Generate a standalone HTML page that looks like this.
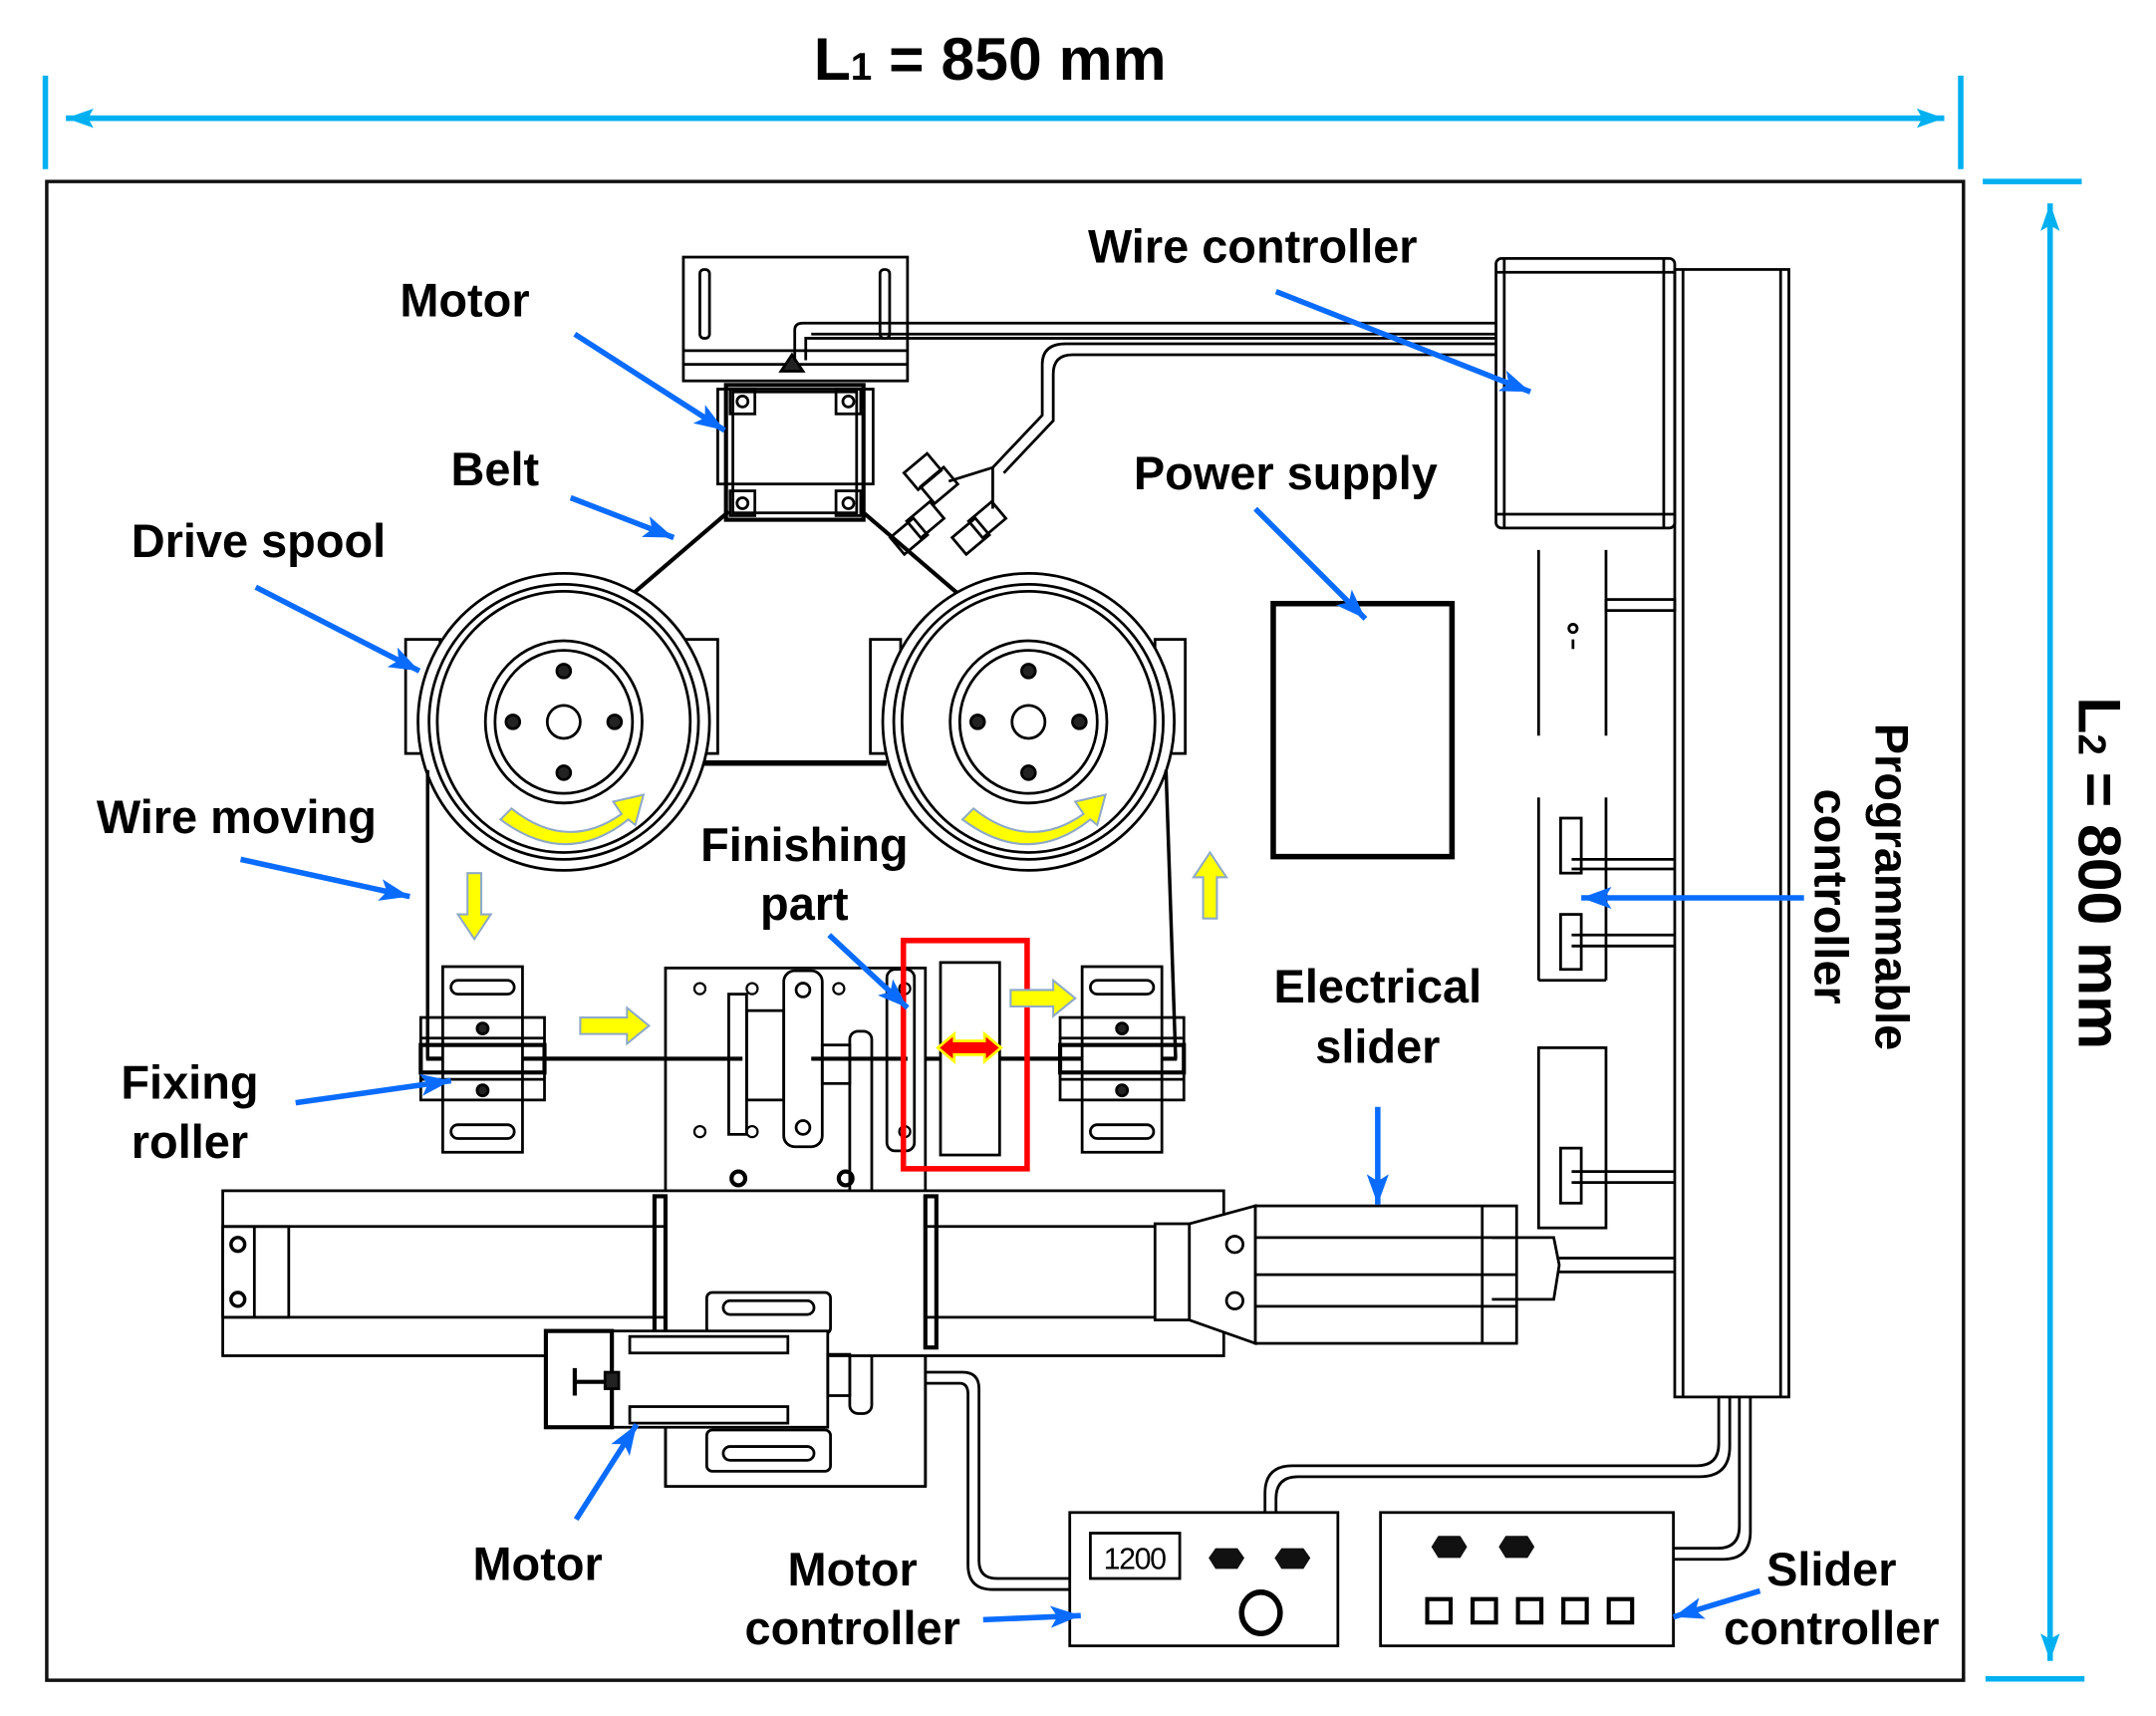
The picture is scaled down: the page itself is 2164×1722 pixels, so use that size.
<!DOCTYPE html>
<html><head><meta charset="utf-8"><style>
html,body{margin:0;padding:0;background:#fff}
svg{display:block}
text{font-family:"Liberation Sans",Arial,sans-serif;font-weight:bold;fill:#000}
</style></head><body>
<svg width="2164" height="1722" viewBox="0 0 1568 1248" preserveAspectRatio="none" xmlns="http://www.w3.org/2000/svg">
<defs>
<marker id="ca" viewBox="0 0 20 14" refX="20" refY="7" markerWidth="20" markerHeight="14" orient="auto" markerUnits="userSpaceOnUse">
<path d="M0,0 L20,7 L0,14 L4,7z" fill="#00b0f0"/>
</marker>
<marker id="bb" viewBox="0 0 22 16" refX="22" refY="8" markerWidth="22" markerHeight="16" orient="auto" markerUnits="userSpaceOnUse">
<path d="M0,0 L22,8 L0,16 L5,8z" fill="#0a6cff"/>
</marker>
</defs>

<text x="720" y="58" font-size="44" text-anchor="middle">L<tspan font-size="28">1</tspan> = 850 mm</text>
<g stroke="#00b0f0" stroke-width="4" fill="none">
<line x1="33" y1="55" x2="33" y2="123"/>
<line x1="1426" y1="55" x2="1426" y2="123"/>
<line x1="48" y1="86" x2="1414" y2="86" marker-end="url(#ca)"/>
<line x1="1414" y1="86" x2="48" y2="86" marker-end="url(#ca)"/>
<line x1="1442" y1="132" x2="1514" y2="132"/>
<line x1="1444" y1="1221" x2="1516" y2="1221"/>
<line x1="1491" y1="1205" x2="1491" y2="148" marker-end="url(#ca)"/>
<line x1="1491" y1="148" x2="1491" y2="1208" marker-end="url(#ca)"/>
</g>
<text transform="translate(1512,635) rotate(90)" font-size="44" text-anchor="middle">L<tspan font-size="28">2</tspan> = 800 mm</text>

<rect x="34" y="132" width="1394" height="1090" fill="none" stroke="#111" stroke-width="2.5"/>

<g fill="none" stroke="#000" stroke-width="2">
<rect x="497" y="187" width="163" height="90"/>
<line x1="497" y1="255" x2="660" y2="255"/>
<line x1="497" y1="265" x2="660" y2="265"/>
<rect x="509" y="196" width="7" height="50" rx="3"/>
<rect x="640" y="196" width="7" height="50" rx="3"/>
<path d="M568,270 L576,258 L584,270 Z" fill="#222"/>
<rect x="522" y="283" width="113" height="69"/>
<rect x="528" y="280" width="100" height="98" stroke-width="3"/>
<rect x="533" y="285" width="90" height="88"/>
<rect x="531" y="283" width="18" height="18"/><circle cx="540" cy="292" r="4"/>
<rect x="608" y="283" width="18" height="18"/><circle cx="617" cy="292" r="4"/>
<rect x="531" y="357" width="18" height="18"/><circle cx="540" cy="366" r="4"/>
<rect x="608" y="357" width="18" height="18"/><circle cx="617" cy="366" r="4"/>
<path d="M530,372 L460,432" stroke-width="3"/>
<path d="M627,372 L697,432" stroke-width="3"/>
<path d="M578,262 L578,240 Q578,235 584,235 L1088,235"/>
<path d="M586,262 L586,246 L1088,246" />
<path d="M1088,243 L590,243"/>
<path d="M1088,250 L775,250 Q758,250 758,265 L758,302 L722,340 L722,370"/>
<path d="M1088,258 L780,258 Q766,258 766,272 L766,306 L730,344"/>
<path d="M722,340 L690,350"/>
<rect x="660" y="335" width="22" height="16" transform="rotate(-40 671 343)"/>
<rect x="672" y="345" width="22" height="16" transform="rotate(-40 683 353)"/>
<rect x="650" y="382" width="22" height="16" transform="rotate(-40 661 390)"/>
<rect x="662" y="370" width="22" height="16" transform="rotate(-40 673 378)"/>
<rect x="695" y="382" width="22" height="16" transform="rotate(-40 706 390)"/>
<rect x="707" y="370" width="22" height="16" transform="rotate(-40 718 378)"/>

<rect x="295" y="465" width="25" height="83"/>
<rect x="499" y="465" width="23" height="83"/>
<rect x="633" y="465" width="22" height="83"/>
<rect x="840" y="465" width="22" height="83"/>
<line x1="512" y1="555" x2="645" y2="555" stroke-width="4"/>
<g id="sp">
<ellipse cx="410" cy="525" rx="106" ry="108" fill="#fff"/>
<ellipse cx="410" cy="525" rx="98" ry="100"/>
<ellipse cx="410" cy="525" rx="92" ry="95"/>
<ellipse cx="410" cy="525" rx="57" ry="59"/>
<ellipse cx="410" cy="525" rx="50" ry="52"/>
<circle cx="410" cy="525" r="12"/>
<circle cx="410" cy="488" r="5" fill="#222"/>
<circle cx="410" cy="562" r="5" fill="#222"/>
<circle cx="373" cy="525" r="5" fill="#222"/>
<circle cx="447" cy="525" r="5" fill="#222"/>
</g>
<use href="#sp" x="338"/>
<line x1="311" y1="560" x2="311" y2="770" stroke-width="2.5"/>
<line x1="848" y1="560" x2="855" y2="770" stroke-width="2.5"/>
<line x1="310" y1="770" x2="856" y2="770" stroke-width="3"/>

<rect x="484" y="704" width="189" height="377" fill="#fff"/>
<line x1="310" y1="770" x2="540" y2="770" stroke-width="3"/>
<line x1="590" y1="770" x2="660" y2="770" stroke-width="3"/>
<line x1="727" y1="770" x2="790" y2="770" stroke-width="3"/>
<g stroke-width="1.6">
<circle cx="509" cy="719" r="4"/><circle cx="547" cy="719" r="4"/><circle cx="610" cy="719" r="4"/><circle cx="658" cy="719" r="4"/>
<circle cx="509" cy="823" r="4"/><circle cx="547" cy="823" r="4"/><circle cx="658" cy="823" r="4"/>
<circle cx="537" cy="857" r="5" stroke-width="3"/><circle cx="537" cy="888" r="5" stroke-width="3"/><circle cx="537" cy="930" r="5" stroke-width="3"/>
<circle cx="615" cy="857" r="5" stroke-width="3"/><circle cx="615" cy="888" r="5" stroke-width="3"/><circle cx="615" cy="930" r="5" stroke-width="3"/>
</g>
<rect x="530" y="723" width="13" height="102"/>
<rect x="543" y="735" width="27" height="65"/>
<rect x="570" y="706" width="28" height="128" rx="8"/>
<circle cx="584" cy="720" r="5"/><circle cx="584" cy="820" r="5"/>
<rect x="598" y="760" width="20" height="28"/>
<rect x="618" y="750" width="16" height="278" rx="6"/>
<rect x="645" y="705" width="20" height="132" rx="6"/>
<g id="fr">
<rect x="322" y="703" width="58" height="135" fill="#fff"/>
<rect x="328" y="713" width="46" height="10" rx="5"/>
<rect x="328" y="818" width="46" height="10" rx="5"/>
<rect x="306" y="740" width="90" height="60"/>
<line x1="306" y1="755" x2="396" y2="755"/>
<line x1="306" y1="785" x2="396" y2="785"/>
<rect x="306" y="760" width="90" height="20" stroke-width="3"/>
<circle cx="351" cy="748" r="4" fill="#222"/>
<circle cx="351" cy="793" r="4" fill="#222"/>
</g>
<use href="#fr" x="465"/>

<rect x="162" y="866" width="728" height="120" fill="#fff"/>
<line x1="162" y1="892" x2="484" y2="892"/>
<line x1="162" y1="958" x2="484" y2="958"/>
<line x1="673" y1="892" x2="890" y2="892"/>
<line x1="673" y1="958" x2="890" y2="958"/>
<rect x="162" y="892" width="48" height="66"/>
<line x1="185" y1="892" x2="185" y2="958"/>
<circle cx="173" cy="905" r="5" stroke-width="2.5"/><circle cx="173" cy="945" r="5" stroke-width="2.5"/>
<rect x="476" y="870" width="8" height="110" stroke-width="3"/>
<rect x="673" y="870" width="8" height="110" stroke-width="3"/>
<line x1="484" y1="986" x2="484" y2="1081"/>
<line x1="673" y1="986" x2="673" y2="1081"/>
<rect x="840" y="890" width="25" height="70" fill="#fff"/>
<path d="M865,890 L913,877 L913,977 L865,960 Z" fill="#fff"/>
<circle cx="898" cy="905" r="6"/><circle cx="898" cy="946" r="6"/>
<rect x="913" y="877" width="190" height="100" fill="#fff"/>
<line x1="913" y1="900" x2="1103" y2="900"/>
<line x1="913" y1="927" x2="1103" y2="927"/>
<line x1="913" y1="950" x2="1103" y2="950"/>
<line x1="1078" y1="877" x2="1078" y2="977"/>
<path d="M1085,900 L1130,900 L1134,920 L1130,945 L1085,945"/>
<line x1="1134" y1="915" x2="1218" y2="915"/><line x1="1134" y1="925" x2="1218" y2="925"/>
<rect x="514" y="940" width="90" height="30" rx="4" fill="#fff"/>
<rect x="526" y="946" width="66" height="10" rx="5"/>
<rect x="514" y="1040" width="90" height="30" rx="4" fill="#fff"/>
<rect x="526" y="1052" width="66" height="10" rx="5"/>
<rect x="397" y="968" width="205" height="70" fill="#fff"/>
<rect x="397" y="968" width="48" height="70" stroke-width="3"/>
<rect x="458" y="972" width="115" height="12"/>
<rect x="458" y="1023" width="115" height="12"/>
<path d="M418,995 L418,1015 M418,1005 L440,1005" stroke-width="3"/>
<rect x="440" y="998" width="10" height="12" fill="#222"/>
<rect x="602" y="985" width="16" height="30"/>
<path d="M673,998 L700,998 Q712,998 712,1010 L712,1135 Q712,1148 725,1148 L778,1148"/>
<path d="M673,1006 L698,1006 Q704,1006 704,1014 L704,1138 Q704,1156 722,1156 L778,1156"/>

<rect x="1088" y="188" width="130" height="196" rx="4"/>
<line x1="1094" y1="188" x2="1094" y2="384"/><line x1="1210" y1="188" x2="1210" y2="384"/>
<line x1="1088" y1="198" x2="1218" y2="198"/><line x1="1088" y1="374" x2="1218" y2="374"/>
<rect x="1218" y="196" width="83" height="820"/>
<line x1="1224" y1="196" x2="1224" y2="1016"/>
<line x1="1295" y1="196" x2="1295" y2="1016"/>
<line x1="1119" y1="400" x2="1119" y2="535"/><line x1="1168" y1="400" x2="1168" y2="535"/>
<rect x="1168" y="436" width="50" height="8"/>
<circle cx="1144" cy="457" r="3"/><line x1="1144" y1="465" x2="1144" y2="472"/>
<line x1="1119" y1="580" x2="1119" y2="713"/><line x1="1168" y1="580" x2="1168" y2="713"/>
<line x1="1119" y1="713" x2="1168" y2="713"/>
<rect x="1135" y="595" width="15" height="40"/><rect x="1135" y="665" width="15" height="40"/>
<line x1="1143" y1="625" x2="1218" y2="625"/><line x1="1143" y1="632" x2="1218" y2="632"/>
<line x1="1143" y1="680" x2="1218" y2="680"/><line x1="1143" y1="688" x2="1218" y2="688"/>
<rect x="1119" y="762" width="49" height="131"/>
<rect x="1135" y="835" width="15" height="40"/>
<line x1="1143" y1="852" x2="1218" y2="852"/><line x1="1143" y1="860" x2="1218" y2="860"/>
<rect x="926" y="439" width="130" height="184" stroke-width="4"/>
<path d="M1250,1016 L1250,1050 Q1250,1066 1234,1066 L940,1066 Q920,1066 920,1086 L920,1100"/>
<path d="M1258,1016 L1258,1052 Q1258,1074 1236,1074 L944,1074 Q928,1074 928,1090 L928,1100"/>
<path d="M1265,1016 L1265,1110 Q1265,1126 1249,1126 L1217,1126"/>
<path d="M1273,1016 L1273,1114 Q1273,1134 1253,1134 L1217,1134"/>
<rect x="778" y="1100" width="195" height="97"/>
<rect x="793" y="1115" width="65" height="33"/>
<rect x="1004" y="1100" width="213" height="97"/>
</g>
<text x="825" y="1141" font-size="22" text-anchor="middle" style="font-weight:normal;letter-spacing:-1px">1200</text>
<g fill="#111">
<polygon points="884,1126 900,1126 905,1133 900,1141 884,1141 879,1133"/>
<polygon points="932,1126 948,1126 953,1133 948,1141 932,1141 927,1133"/>
<polygon points="1046,1117 1062,1117 1067,1125 1062,1133 1046,1133 1041,1125"/>
<polygon points="1095,1117 1111,1117 1116,1125 1111,1133 1095,1133 1090,1125"/>
</g>
<ellipse cx="917" cy="1173" rx="14" ry="15" fill="none" stroke="#000" stroke-width="4"/>
<g fill="none" stroke="#000" stroke-width="3">
<rect x="1038" y="1163" width="17" height="17"/><rect x="1071" y="1163" width="17" height="17"/>
<rect x="1104" y="1163" width="17" height="17"/><rect x="1137" y="1163" width="17" height="17"/>
<rect x="1170" y="1163" width="17" height="17"/>
</g>

<rect x="684" y="700" width="43" height="140" fill="#fff" stroke="#000" stroke-width="2"/>
<rect x="657" y="684" width="90" height="166" fill="none" stroke="#f00" stroke-width="4"/>
<path d="M682,762 L694,752 L694,757 L716,757 L716,752 L728,762 L716,772 L716,767 L694,767 L694,772 Z" fill="#f00" stroke="#ff0" stroke-width="2"/>

<g fill="#ffff00" stroke="#8ea9c8" stroke-width="1.5">
<path d="M372,588 Q412,620 452,592 L446,583 L468,578 L462,600 L457,596 Q412,632 364,596 Z"/>
<path d="M708,588 Q748,620 788,592 L782,583 L804,578 L798,600 L793,596 Q748,632 700,596 Z"/>
<path d="M340,635 L350,635 L350,665 L357,665 L345,683 L333,665 L340,665 Z"/>
<path d="M875,668 L885,668 L885,638 L892,638 L880,620 L868,638 L875,638 Z"/>
<path d="M422,740 L456,740 L456,733 L472,746 L456,759 L456,752 L422,752 Z"/>
<path d="M735,720 L766,720 L766,713 L782,726 L766,739 L766,732 L735,732 Z"/>
</g>

<g stroke="#0a6cff" stroke-width="4" fill="none">
<line x1="418" y1="243" x2="527" y2="313" marker-end="url(#bb)"/>
<line x1="415" y1="362" x2="490" y2="391" marker-end="url(#bb)"/>
<line x1="186" y1="427" x2="305" y2="488" marker-end="url(#bb)"/>
<line x1="175" y1="625" x2="298" y2="652" marker-end="url(#bb)"/>
<line x1="215" y1="802" x2="328" y2="786" marker-end="url(#bb)"/>
<line x1="603" y1="680" x2="660" y2="733" marker-end="url(#bb)"/>
<line x1="419" y1="1105" x2="463" y2="1036" marker-end="url(#bb)"/>
<line x1="715" y1="1178" x2="786" y2="1175" marker-end="url(#bb)"/>
<line x1="928" y1="212" x2="1113" y2="285" marker-end="url(#bb)"/>
<line x1="913" y1="370" x2="993" y2="450" marker-end="url(#bb)"/>
<line x1="1002" y1="805" x2="1002" y2="876" marker-end="url(#bb)"/>
<line x1="1312" y1="653" x2="1150" y2="653" marker-end="url(#bb)"/>
<line x1="1280" y1="1157" x2="1217" y2="1176" marker-end="url(#bb)"/>
</g>

<g font-size="34" text-anchor="middle">
<text x="338" y="230">Motor</text>
<text x="360" y="353">Belt</text>
<text x="188" y="405">Drive spool</text>
<text x="172" y="606">Wire moving</text>
<text x="585" y="626">Finishing</text>
<text x="585" y="669">part</text>
<text x="138" y="799">Fixing</text>
<text x="138" y="842">roller</text>
<text x="391" y="1149">Motor</text>
<text x="620" y="1153">Motor</text>
<text x="620" y="1196">controller</text>
<text x="911" y="191">Wire controller</text>
<text x="935" y="356">Power supply</text>
<text x="1002" y="729">Electrical</text>
<text x="1002" y="773">slider</text>
<text x="1332" y="1153">Slider</text>
<text x="1332" y="1196">controller</text>
<text transform="translate(1364,645) rotate(90)">Programmable</text>
<text transform="translate(1320,652) rotate(90)">controller</text>
</g>
</svg>
</body></html>
